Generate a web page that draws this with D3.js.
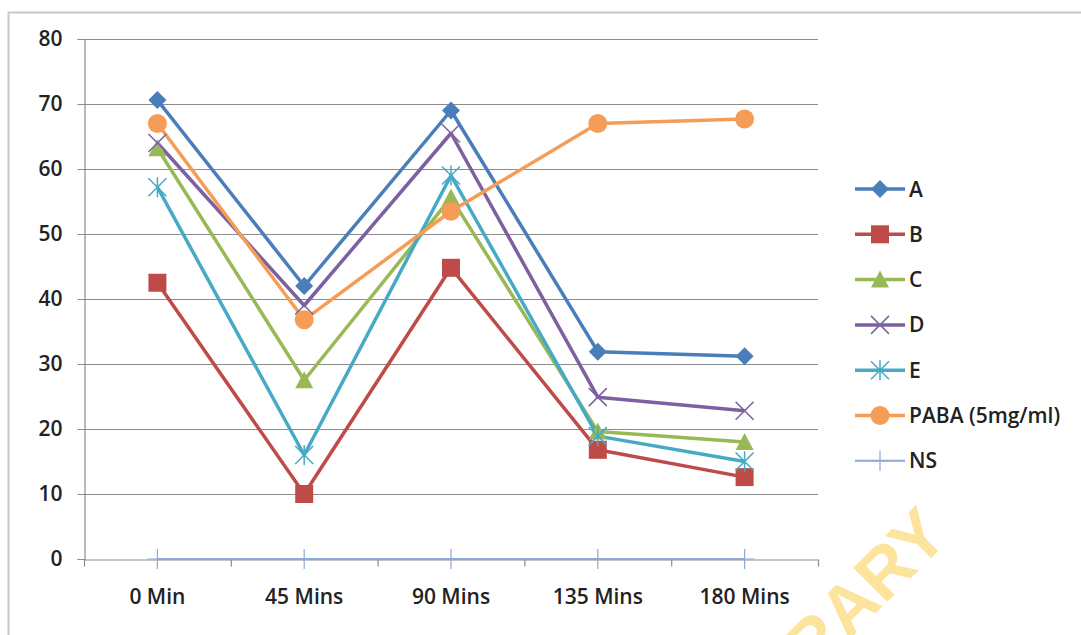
<!DOCTYPE html>
<html><head><meta charset="utf-8">
<script src="https://cdn.jsdelivr.net/npm/d3@7"></script>
<style>
html,body{margin:0;padding:0;background:#fff;}
svg{display:block;}
text{font-family:"Open Sans",Lato,sans-serif;font-weight:600;fill:#222;}
</style></head>
<body>
<svg id="chart" width="1081" height="635"></svg>
<script>
const categories = ["0 Min","45 Mins","90 Mins","135 Mins","180 Mins"];
const seriesNames = ["A","B","C","D","E","PABA (5mg/ml)","NS"];
const valuesA    = [70.6, 42.0, 69.0, 31.9, 31.2];
const valuesB    = [42.5, 10.0, 44.8, 16.8, 12.6];
const valuesC    = [63.2, 27.5, 55.6, 19.6, 18.0];
const valuesD    = [64.0, 39.0, 65.5, 24.9, 22.8];
const valuesE    = [57.2, 16.0, 59.0, 18.9, 15.0];
const valuesPABA = [67.0, 36.8, 53.5, 67.0, 67.7];
const valuesNS   = [0, 0, 0, 0, 0];
const yTicks = [0,10,20,30,40,50,60,70,80];
const colors = ["#4A7EBB","#BE4B48","#98B954","#7D60A0","#46AAC5","#F59D56","#8EA9D8"];
const markers = ["diamond","square","triangle","x","star","circle","plus"];
const allValues = [valuesA,valuesB,valuesC,valuesD,valuesE,valuesPABA,valuesNS];
const series = seriesNames.map((n,i)=>({name:n,values:allValues[i],color:colors[i],marker:markers[i]}));

const svg = d3.select("#chart");
svg.append("rect").attr("x",8.5).attr("y",12.5).attr("width",1100).attr("height",700)
  .attr("fill","none").attr("stroke","#c8c8c8").attr("stroke-width",2);

const pLeft=84, pRight=818, pTop=39, pBottom=559;
const x = d3.scaleBand().domain(categories).range([pLeft,pRight]);
const y = d3.scaleLinear().domain([0,80]).range([pBottom,pTop]);

svg.append("g").selectAll("line").data(yTicks.filter(t=>t>0)).join("line")
  .attr("x1",pLeft).attr("x2",pRight).attr("y1",d=>y(d)+0.5).attr("y2",d=>y(d)+0.5)
  .attr("stroke","#8c8c8c").attr("stroke-width",1.2);

const ya = svg.append("g").attr("transform",`translate(${pLeft+0.5},0)`)
  .call(d3.axisLeft(y).tickValues(yTicks).tickSize(7).tickPadding(15));
ya.select(".domain").attr("stroke","#8c8c8c").attr("stroke-width",1.2);
ya.selectAll(".tick line").attr("stroke","#8c8c8c");
ya.selectAll("text").style("font-size","21px").style("font-family","'Open Sans', sans-serif").style("font-weight","600").attr("fill","#222");

const xa = svg.append("g").attr("transform",`translate(0,${pBottom+0.5})`)
  .call(d3.axisBottom(x).tickSize(0).tickPadding(30));
xa.select(".domain").attr("stroke","#8c8c8c").attr("stroke-width",1.2);
xa.selectAll("text").style("font-size","21px").style("font-family","'Open Sans', sans-serif").style("font-weight","600").attr("fill","#222");
const bounds = categories.map(c=>x(c)).concat([x.range()[1]]);
xa.append("g").selectAll("line").data(bounds).join("line")
  .attr("x1",d=>d+0.5).attr("x2",d=>d+0.5).attr("y1",0).attr("y2",7)
  .attr("stroke","#8c8c8c").attr("stroke-width",1.2);

const cx = c => x(c)+x.bandwidth()/2;

function drawMarker(g, type, color){
  switch(type){
    case "diamond": g.append("path").attr("d","M0,-9L9,0L0,9L-9,0Z").attr("fill",color); break;
    case "square": g.append("rect").attr("x",-9).attr("y",-9).attr("width",18).attr("height",18).attr("fill",color); break;
    case "triangle": g.append("path").attr("d","M0,-9L9,8L-9,8Z").attr("fill",color); break;
    case "circle": g.append("circle").attr("r",9.5).attr("fill",color); break;
    case "x": g.append("path").attr("d","M-9,-9L9,9M-9,9L9,-9").attr("stroke",color).attr("stroke-width",1.5).attr("fill","none"); break;
    case "star": g.append("path").attr("d","M-9,-9L9,9M-9,9L9,-9M0,-10L0,10").attr("stroke",color).attr("stroke-width",1.5).attr("fill","none"); break;
    case "plus": g.append("path").attr("d","M0,-10L0,10M-10,0L10,0").attr("stroke",color).attr("stroke-width",1.2).attr("fill","none"); break;
  }
}

const line = d3.line().x((d,i)=>cx(categories[i])).y(d=>y(d));
const order = [6,0,1,2,3,4,5];
order.forEach(si=>{
  const s = series[si];
  svg.append("path").datum(s.values).attr("d",line).attr("fill","none")
    .attr("stroke",s.color).attr("stroke-width",si===6?2:3.5).attr("stroke-linejoin","round");
});
order.forEach(si=>{
  const s = series[si];
  s.values.forEach((v,i)=>{
    const g = svg.append("g").attr("transform",`translate(${cx(categories[i])},${y(v)})`);
    drawMarker(g, s.marker, s.color);
  });
});

const lg = svg.append("g").attr("transform","translate(855,189)");
series.forEach((s,i)=>{
  const g = lg.append("g").attr("transform",`translate(0,${i*45.3})`);
  g.append("line").attr("x1",0).attr("x2",50).attr("y1",0).attr("y2",0)
    .attr("stroke",s.color).attr("stroke-width",s.marker==="plus"?2:3.5);
  const m = g.append("g").attr("transform","translate(25,0)");
  drawMarker(m, s.marker, s.color);
  g.append("text").attr("x",54).attr("y",0).attr("dy","0.36em")
    .style("font-size","21px").text(s.name);
});

svg.append("text").attr("transform","translate(951,538) rotate(-45)")
  .attr("text-anchor","end")
  .style("font-family","'Liberation Sans', Arial, sans-serif").style("font-size","70px").style("font-weight","bold")
  .style("fill","#FCE49C").text("LIBRARY");
</script>
</body></html>
